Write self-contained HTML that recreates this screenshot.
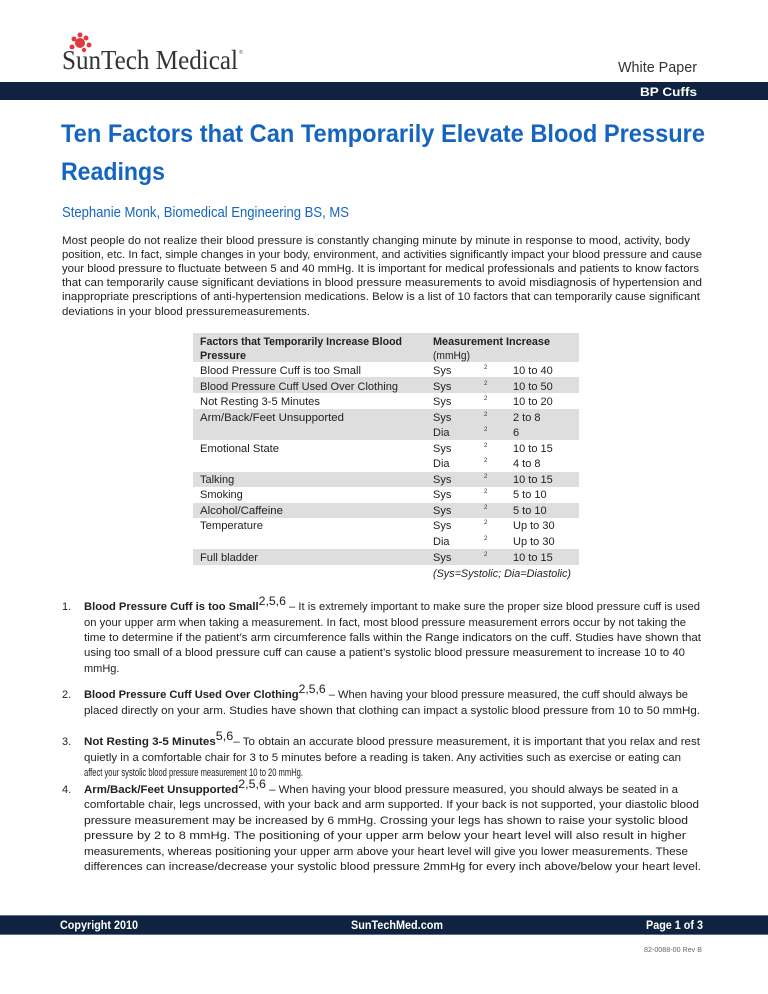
<!DOCTYPE html>
<html><head><meta charset="utf-8"><style>
html,body{margin:0;padding:0;background:#fff;}
svg{display:block;font-family:"Liberation Sans",sans-serif;}
.p{font-size:11px;fill:#222;}
.b{font-weight:bold;}
.t{font-size:11px;fill:#222;}
.s{font-size:6px;fill:#333;}
</style></head><body>
<svg width="768" height="994" viewBox="0 0 768 994" xmlns="http://www.w3.org/2000/svg">
<!-- logo -->
<g fill="#e03a3e">
<circle cx="80" cy="43" r="5"/><circle cx="74" cy="39" r="2.5"/><circle cx="86" cy="38" r="2.5"/><circle cx="89" cy="45" r="2.5"/><circle cx="72" cy="47" r="2.5"/><circle cx="80" cy="35" r="2.5"/><circle cx="84" cy="50" r="2.2"/>
</g>
<text x="62" y="69" font-family="Liberation Serif,serif" font-size="27" fill="#333" textLength="176" lengthAdjust="spacingAndGlyphs">SunTech Medical</text>
<text x="239" y="54" font-size="5" fill="#555">®</text>
<text x="697" y="72" font-size="15" fill="#333" text-anchor="end" textLength="79" lengthAdjust="spacingAndGlyphs">White Paper</text>
<rect x="0" y="82" width="768" height="18" fill="#0f2340"/>
<text x="697" y="96" font-size="12" font-weight="bold" fill="#fff" text-anchor="end" textLength="57" lengthAdjust="spacingAndGlyphs">BP Cuffs</text>
<!-- title -->
<g fill="#1565c0" font-weight="bold" font-size="25">
<text x="61" y="142" textLength="644" lengthAdjust="spacingAndGlyphs">Ten Factors that Can Temporarily Elevate Blood Pressure</text>
<text x="61" y="180" textLength="104" lengthAdjust="spacingAndGlyphs">Readings</text>
</g>
<text x="62" y="217" font-size="15" fill="#1565c0" textLength="287" lengthAdjust="spacingAndGlyphs">Stephanie Monk, Biomedical Engineering BS, MS</text>
<!-- intro -->
<g class="p">
<text x="62" y="244" textLength="628" lengthAdjust="spacingAndGlyphs">Most people do not realize their blood pressure is constantly changing minute by minute in response to mood, activity, body</text>
<text x="62" y="258" textLength="640" lengthAdjust="spacingAndGlyphs">position, etc. In fact, simple changes in your body, environment, and activities significantly impact your blood pressure and cause</text>
<text x="62" y="272" textLength="637" lengthAdjust="spacingAndGlyphs">your blood pressure to fluctuate between 5 and 40 mmHg. It is important for medical professionals and patients to know factors</text>
<text x="62" y="286" textLength="640" lengthAdjust="spacingAndGlyphs">that can temporarily cause significant deviations in blood pressure measurements to avoid misdiagnosis of hypertension and</text>
<text x="62" y="300" textLength="638" lengthAdjust="spacingAndGlyphs">inappropriate prescriptions of anti-hypertension medications. Below is a list of 10 factors that can temporarily cause significant</text>
<text x="62" y="315" textLength="248" lengthAdjust="spacingAndGlyphs">deviations in your blood pressuremeasurements.</text>
</g>
<!-- table -->
<g fill="#dedede">
<rect x="193" y="333" width="386" height="29"/>
<rect x="193" y="377" width="386" height="16"/>
<rect x="193" y="409" width="386" height="31"/>
<rect x="193" y="472" width="386" height="15"/>
<rect x="193" y="503" width="386" height="15"/>
<rect x="193" y="549" width="386" height="16"/>
</g>
<g class="t">
<text x="200" y="345" class="b" textLength="202" lengthAdjust="spacingAndGlyphs">Factors that Temporarily Increase Blood</text>
<text x="200" y="359" class="b" textLength="46" lengthAdjust="spacingAndGlyphs">Pressure</text>
<text x="433" y="345" class="b" textLength="117" lengthAdjust="spacingAndGlyphs">Measurement Increase</text>
<text x="433" y="359" textLength="37" lengthAdjust="spacingAndGlyphs">(mmHg)</text>
<text x="200" y="374" textLength="161" lengthAdjust="spacingAndGlyphs">Blood Pressure Cuff is too Small</text>
<text x="200" y="390" textLength="198" lengthAdjust="spacingAndGlyphs">Blood Pressure Cuff Used Over Clothing</text>
<text x="200" y="405" textLength="120" lengthAdjust="spacingAndGlyphs">Not Resting 3-5 Minutes</text>
<text x="200" y="421" textLength="144" lengthAdjust="spacingAndGlyphs">Arm/Back/Feet Unsupported</text>
<text x="200" y="452" textLength="79" lengthAdjust="spacingAndGlyphs">Emotional State</text>
<text x="200" y="483">Talking</text>
<text x="200" y="498">Smoking</text>
<text x="200" y="514" textLength="83" lengthAdjust="spacingAndGlyphs">Alcohol/Caffeine</text>
<text x="200" y="529" textLength="63" lengthAdjust="spacingAndGlyphs">Temperature</text>
<text x="200" y="561" textLength="58" lengthAdjust="spacingAndGlyphs">Full bladder</text>
<text x="433" y="374">Sys</text><text x="513" y="374">10 to 40</text>
<text x="433" y="390">Sys</text><text x="513" y="390">10 to 50</text>
<text x="433" y="405">Sys</text><text x="513" y="405">10 to 20</text>
<text x="433" y="421">Sys</text><text x="513" y="421">2 to 8</text>
<text x="433" y="436">Dia</text><text x="513" y="436">6</text>
<text x="433" y="452">Sys</text><text x="513" y="452">10 to 15</text>
<text x="433" y="467">Dia</text><text x="513" y="467">4 to 8</text>
<text x="433" y="483">Sys</text><text x="513" y="483">10 to 15</text>
<text x="433" y="498">Sys</text><text x="513" y="498">5 to 10</text>
<text x="433" y="514">Sys</text><text x="513" y="514">5 to 10</text>
<text x="433" y="529">Sys</text><text x="513" y="529">Up to 30</text>
<text x="433" y="545">Dia</text><text x="513" y="545">Up to 30</text>
<text x="433" y="561">Sys</text><text x="513" y="561">10 to 15</text>
<text x="433" y="577" font-style="italic" textLength="138" lengthAdjust="spacingAndGlyphs">(Sys=Systolic; Dia=Diastolic)</text>
</g>
<g class="s">
<text x="484" y="369">2</text><text x="484" y="385">2</text><text x="484" y="400">2</text><text x="484" y="416">2</text><text x="484" y="431">2</text><text x="484" y="447">2</text><text x="484" y="462">2</text><text x="484" y="478">2</text><text x="484" y="493">2</text><text x="484" y="509">2</text><text x="484" y="524">2</text><text x="484" y="540">2</text><text x="484" y="556">2</text>
</g>
<!-- list -->
<g class="p">
<text x="62" y="610">1.</text>
<text x="84" y="610" textLength="616" lengthAdjust="spacingAndGlyphs"><tspan class="b">Blood Pressure Cuff is too Small</tspan><tspan font-size="12" dy="-5">2,5,6</tspan><tspan dy="5"> – It is extremely important to make sure the proper size blood pressure cuff is used</tspan></text>
<text x="84" y="626" textLength="602" lengthAdjust="spacingAndGlyphs">on your upper arm when taking a measurement. In fact, most blood pressure measurement errors occur by not taking the</text>
<text x="84" y="641" textLength="617" lengthAdjust="spacingAndGlyphs">time to determine if the patient’s arm circumference falls within the Range indicators on the cuff. Studies have shown that</text>
<text x="84" y="656" textLength="601" lengthAdjust="spacingAndGlyphs">using too small of a blood pressure cuff can cause a patient’s systolic blood pressure measurement to increase 10 to 40</text>
<text x="84" y="672">mmHg.</text>
<text x="62" y="698">2.</text>
<text x="84" y="698" textLength="604" lengthAdjust="spacingAndGlyphs"><tspan class="b">Blood Pressure Cuff Used Over Clothing</tspan><tspan font-size="12" dy="-5">2,5,6</tspan><tspan dy="5"> – When having your blood pressure measured, the cuff should always be</tspan></text>
<text x="84" y="714" textLength="616" lengthAdjust="spacingAndGlyphs">placed directly on your arm. Studies have shown that clothing can impact a systolic blood pressure from 10 to 50 mmHg.</text>
<text x="62" y="745">3.</text>
<text x="84" y="745" textLength="616" lengthAdjust="spacingAndGlyphs"><tspan class="b">Not Resting 3-5 Minutes</tspan><tspan font-size="12" dy="-5">5,6</tspan><tspan dy="5">– To obtain an accurate blood pressure measurement, it is important that you relax and rest</tspan></text>
<text x="84" y="761" textLength="597" lengthAdjust="spacingAndGlyphs">quietly in a comfortable chair for 3 to 5 minutes before a reading is taken. Any activities such as exercise or eating can</text>
<text x="84" y="776" textLength="219" lengthAdjust="spacingAndGlyphs">affect your systolic blood pressure measurement 10 to 20 mmHg.</text>
<text x="62" y="793">4.</text>
<text x="84" y="793" textLength="594" lengthAdjust="spacingAndGlyphs"><tspan class="b">Arm/Back/Feet Unsupported</tspan><tspan font-size="12" dy="-5">2,5,6</tspan><tspan dy="5"> – When having your blood pressure measured, you should always be seated in a</tspan></text>
<text x="84" y="808" textLength="615" lengthAdjust="spacingAndGlyphs">comfortable chair, legs uncrossed, with your back and arm supported. If your back is not supported, your diastolic blood</text>
<text x="84" y="824" textLength="604" lengthAdjust="spacingAndGlyphs">pressure measurement may be increased by 6 mmHg. Crossing your legs has shown to raise your systolic blood</text>
<text x="84" y="839" textLength="602" lengthAdjust="spacingAndGlyphs">pressure by 2 to 8 mmHg. The positioning of your upper arm below your heart level will also result in higher</text>
<text x="84" y="855" textLength="604" lengthAdjust="spacingAndGlyphs">measurements, whereas positioning your upper arm above your heart level will give you lower measurements. These</text>
<text x="84" y="870" textLength="617" lengthAdjust="spacingAndGlyphs">differences can increase/decrease your systolic blood pressure 2mmHg for every inch above/below your heart level.</text>
</g>
<!-- footer -->
<rect x="0" y="915" width="768" height="20" fill="#0f2340"/>
<rect x="0" y="915" width="768" height="1" fill="#5a6f88"/>
<rect x="0" y="934" width="768" height="1" fill="#5a6f88"/>
<g fill="#fff" font-size="12" font-weight="bold">
<text x="60" y="929" textLength="78" lengthAdjust="spacingAndGlyphs">Copyright 2010</text>
<text x="351" y="929" textLength="92" lengthAdjust="spacingAndGlyphs">SunTechMed.com</text>
<text x="703" y="929" text-anchor="end" textLength="57" lengthAdjust="spacingAndGlyphs">Page 1 of 3</text>
</g>
<text x="702" y="952" font-size="7" fill="#666" text-anchor="end" textLength="58" lengthAdjust="spacingAndGlyphs">82-0088-00 Rev B</text>
</svg>
</body></html>
